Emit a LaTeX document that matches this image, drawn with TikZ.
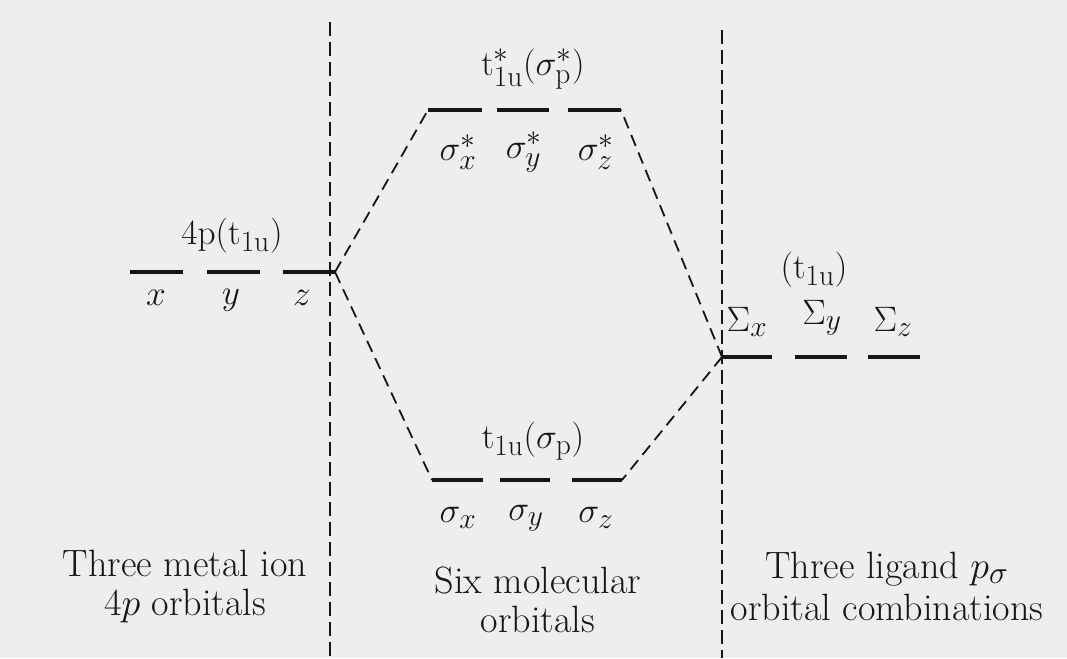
\documentclass[tikz,border=0pt]{standalone}
\usepackage{amsmath}
\definecolor{paper}{RGB}{238,238,236}
\definecolor{ink}{RGB}{22,22,22}
\begin{document}
\begin{tikzpicture}[x=1pt,y=-1pt,
  level/.style={line width=4pt, draw=ink},
  conn/.style={draw=ink, line width=1.8pt, dash pattern=on 12pt off 7pt},
  divider/.style={draw=ink, line width=1.3pt, dash pattern=on 14pt off 6pt},
  lab/.style={font=\fontsize{24.88}{28}\selectfont, inner sep=0pt, text=ink, scale=1.42, transform shape},
  captext/.style={font=\fontsize{24.88}{25.5}\selectfont, inner sep=0pt, align=center, text=ink, scale=1.53, transform shape}]
\fill[paper] (0,0) rectangle (1067,658);
\useasboundingbox (0,0) rectangle (1067,658);
% dividers
\coordinate (d1t) at (330,22); \coordinate (d1b) at (330,658);
\coordinate (d2t) at (722,30); \coordinate (d2b) at (722,658);
\draw[divider] (d1t) -- (d1b);
\draw[divider] (d2t) -- (d2b);
% left levels (metal 4p)
\coordinate (L1a) at (130,272); \coordinate (L1b) at (183,272);
\coordinate (L2a) at (207,272); \coordinate (L2b) at (260,272);
\coordinate (L3a) at (283,272); \coordinate (L3b) at (335,272);
\draw[level] (L1a) -- (L1b); \draw[level] (L2a) -- (L2b); \draw[level] (L3a) -- (L3b);
\node[lab] (px) at (156,298) {$x$};
\node[lab] (py) at (231,300) {$y$};
\node[lab] (pz) at (302,298) {$z$};
\node[lab] (ptitle) at (232,236) {$4\mathrm{p}(\mathrm{t}_{\mathrm{1u}})$};
% top MO levels
\coordinate (T1a) at (428,110); \coordinate (T1b) at (482,110);
\coordinate (T2a) at (497,110); \coordinate (T2b) at (549,110);
\coordinate (T3a) at (568,110); \coordinate (T3b) at (621,110);
\draw[level] (T1a) -- (T1b); \draw[level] (T2a) -- (T2b); \draw[level] (T3a) -- (T3b);
\node[lab] (sxs) at (458,152) {$\sigma_x^*$};
\node[lab] (sys) at (524,152) {$\sigma_y^*$};
\node[lab] (szs) at (596,152) {$\sigma_z^*$};
\node[lab] (ttop) at (533,69) {$\mathrm{t}_{\mathrm{1u}}^{*}(\sigma_{\mathrm{p}}^{*})$};
% bottom MO levels
\coordinate (B1a) at (432,480); \coordinate (B1b) at (483,480);
\coordinate (B2a) at (500,480); \coordinate (B2b) at (550,480);
\coordinate (B3a) at (572,480); \coordinate (B3b) at (622,480);
\draw[level] (B1a) -- (B1b); \draw[level] (B2a) -- (B2b); \draw[level] (B3a) -- (B3b);
\node[lab] (sx) at (458,518) {$\sigma_x$};
\node[lab] (sy) at (526,518) {$\sigma_y$};
\node[lab] (sz) at (596,518) {$\sigma_z$};
\node[lab] (tbot) at (533,441) {$\mathrm{t}_{\mathrm{1u}}(\sigma_{\mathrm{p}})$};
% right levels (ligand)
\coordinate (R1a) at (722,357); \coordinate (R1b) at (772,357);
\coordinate (R2a) at (795,357); \coordinate (R2b) at (847,357);
\coordinate (R3a) at (868,357); \coordinate (R3b) at (920,357);
\draw[level] (R1a) -- (R1b); \draw[level] (R2a) -- (R2b); \draw[level] (R3a) -- (R3b);
\node[lab] (Sx) at (747,322) {$\Sigma_x$};
\node[lab] (Sy) at (822,318) {$\Sigma_y$};
\node[lab] (Sz) at (893,322) {$\Sigma_z$};
\node[lab] (tR) at (814,270) {$(\mathrm{t}_{\mathrm{1u}})$};
% correlation lines
\draw[conn] (L3b) -- (T1a);
\draw[conn] (L3b) -- (B1a);
\draw[conn] (R1a) -- (T3b);
\draw[conn] (R1a) -- (B3b);
% captions
\node[captext] (c1) at (185,586) {Three metal ion\\$4p$ orbitals};
\node[captext] (c2) at (538,600) {Six molecular\\orbitals};
\node[captext, font=\fontsize{24.88}{27.5}\selectfont] (c3) at (887,586) {Three ligand $p_\sigma$\\orbital combinations};
\end{tikzpicture}
\end{document}
